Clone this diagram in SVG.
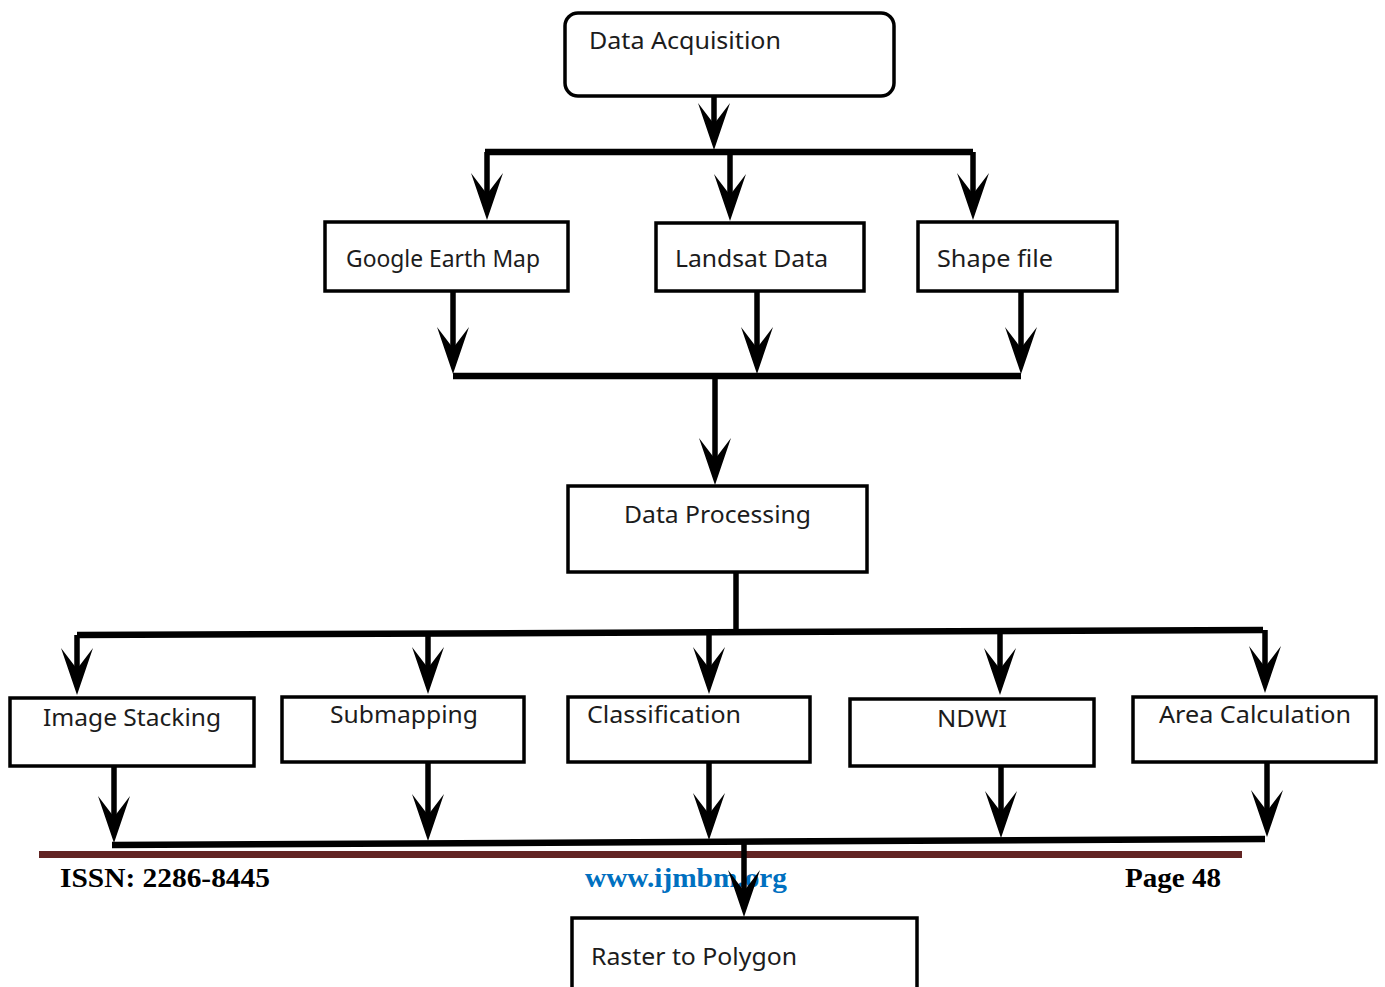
<svg xmlns="http://www.w3.org/2000/svg" width="1385" height="987" viewBox="0 0 1385 987">
<style>
.box{fill:#fff;stroke:#000;stroke-width:3.5}
.lbl{font-family:"Noto Sans","Open Sans",sans-serif;font-size:23px;fill:#1c1c1c}
.c{fill:none;stroke:#000;stroke-width:5.5}
.h{fill:none;stroke:#000;stroke-width:6.5}
.ft{font-family:"Liberation Serif","Times New Roman",serif;font-weight:bold;font-size:27px}
</style>
<defs>
<marker id="arr" markerUnits="userSpaceOnUse" viewBox="-50 -20 52 40" markerWidth="52" markerHeight="40" refX="-10" refY="0" orient="auto">
<path d="M0,0 L-47,-16 L-26,0 L-47,16 Z" fill="#000"/>
</marker>
</defs>
<rect width="1385" height="987" fill="#fff"/>
<g id="footer">
<rect x="39" y="851" width="1203" height="7" fill="#622423"/>
<text class="ft" x="60" y="887" textLength="210" lengthAdjust="spacingAndGlyphs" fill="#000">ISSN: 2286-8445</text>
<text class="ft" x="585" y="887" textLength="202" lengthAdjust="spacingAndGlyphs" fill="#0070C0">www.ijmbm.org</text>
<text class="ft" x="1125" y="887" textLength="96" lengthAdjust="spacingAndGlyphs" fill="#000">Page 48</text>
</g>
<g id="n-acq"><rect class="box" x="565" y="13" width="329" height="83" rx="13"/><text class="lbl" x="589" y="49" textLength="192" lengthAdjust="spacingAndGlyphs">Data Acquisition</text></g>
<g id="n-google"><rect class="box" x="325" y="222" width="243" height="69"/><text class="lbl" x="346" y="267" textLength="194" lengthAdjust="spacingAndGlyphs">Google Earth Map</text></g>
<g id="n-landsat"><rect class="box" x="656" y="223" width="208" height="68"/><text class="lbl" x="675" y="267" textLength="153" lengthAdjust="spacingAndGlyphs">Landsat Data</text></g>
<g id="n-shape"><rect class="box" x="918" y="222" width="199" height="69"/><text class="lbl" x="937" y="267" textLength="116" lengthAdjust="spacingAndGlyphs">Shape file</text></g>
<g id="n-proc"><rect class="box" x="568" y="486" width="299" height="86"/><text class="lbl" x="624" y="523" textLength="187" lengthAdjust="spacingAndGlyphs">Data Processing</text></g>
<g id="n-stack"><rect class="box" x="10" y="698" width="244" height="68"/><text class="lbl" x="43" y="726" textLength="178" lengthAdjust="spacingAndGlyphs">Image Stacking</text></g>
<g id="n-sub"><rect class="box" x="282" y="697" width="242" height="65"/><text class="lbl" x="330" y="723" textLength="148" lengthAdjust="spacingAndGlyphs">Submapping</text></g>
<g id="n-class"><rect class="box" x="568" y="697" width="242" height="65"/><text class="lbl" x="587" y="723" textLength="154" lengthAdjust="spacingAndGlyphs">Classification</text></g>
<g id="n-ndwi"><rect class="box" x="850" y="699" width="244" height="67"/><text class="lbl" x="937" y="727" textLength="70" lengthAdjust="spacingAndGlyphs">NDWI</text></g>
<g id="n-area"><rect class="box" x="1133" y="697" width="243" height="65"/><text class="lbl" x="1159" y="723" textLength="192" lengthAdjust="spacingAndGlyphs">Area Calculation</text></g>
<g id="n-raster"><rect class="box" x="572" y="918" width="345" height="80"/><text class="lbl" x="591" y="965" textLength="206" lengthAdjust="spacingAndGlyphs">Raster to Polygon</text></g>
<g id="connectors">
<line class="c" x1="714" y1="96" x2="714" y2="140" marker-end="url(#arr)"/>
<path class="h" d="M485,152 H973"/>
<line class="c" x1="487" y1="152" x2="487" y2="210" marker-end="url(#arr)"/>
<line class="c" x1="730" y1="152" x2="730" y2="211" marker-end="url(#arr)"/>
<line class="c" x1="973" y1="152" x2="973" y2="210" marker-end="url(#arr)"/>
<line class="c" x1="453" y1="291" x2="453" y2="364" marker-end="url(#arr)"/>
<line class="c" x1="757" y1="291" x2="757" y2="364" marker-end="url(#arr)"/>
<line class="c" x1="1021" y1="291" x2="1021" y2="364" marker-end="url(#arr)"/>
<path class="h" d="M453,376 H1021"/>
<line class="c" x1="715" y1="376" x2="715" y2="475" marker-end="url(#arr)"/>
<line class="c" x1="736" y1="572" x2="736" y2="632"/>
<path class="h" d="M77,635 L1263,630"/>
<line class="c" x1="77" y1="635" x2="77" y2="685" marker-end="url(#arr)"/>
<line class="c" x1="428" y1="633" x2="428" y2="684" marker-end="url(#arr)"/>
<line class="c" x1="709" y1="632" x2="709" y2="684" marker-end="url(#arr)"/>
<line class="c" x1="1000" y1="631" x2="1000" y2="685" marker-end="url(#arr)"/>
<line class="c" x1="1265" y1="630" x2="1265" y2="683" marker-end="url(#arr)"/>
<line class="c" x1="114" y1="766" x2="114" y2="833" marker-end="url(#arr)"/>
<line class="c" x1="428" y1="762" x2="428" y2="831" marker-end="url(#arr)"/>
<line class="c" x1="709" y1="762" x2="709" y2="830" marker-end="url(#arr)"/>
<line class="c" x1="1001" y1="766" x2="1001" y2="828" marker-end="url(#arr)"/>
<line class="c" x1="1267" y1="762" x2="1267" y2="827" marker-end="url(#arr)"/>
<path class="h" d="M112,845 L1265,839"/>
<line class="c" x1="744" y1="842" x2="744" y2="907" marker-end="url(#arr)"/>
</g>
</svg>
